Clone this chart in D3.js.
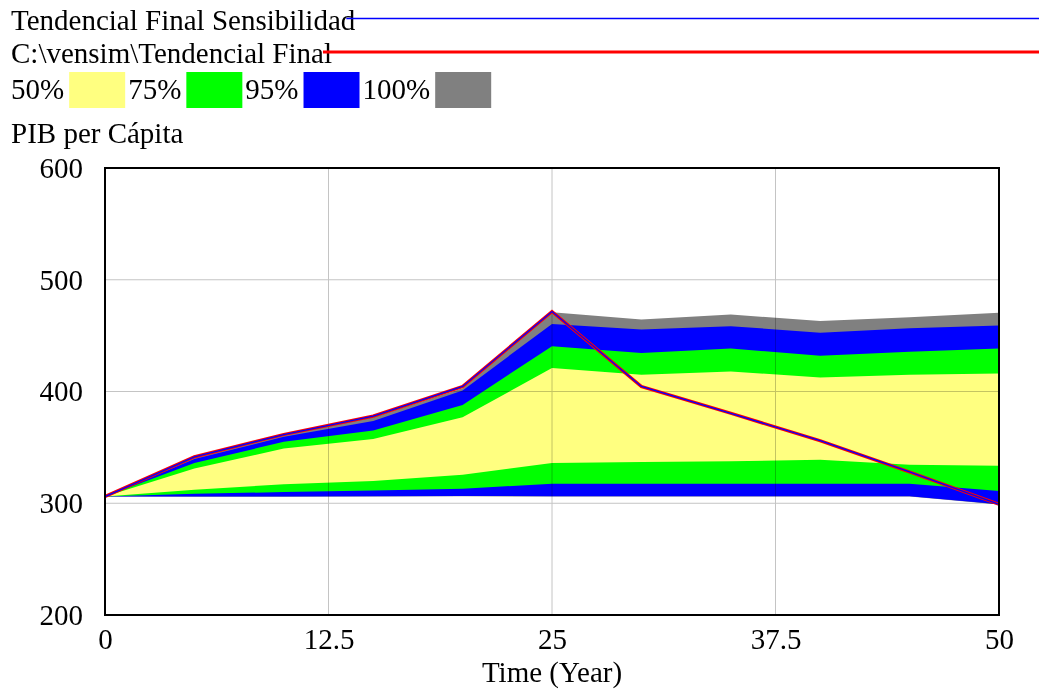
<!DOCTYPE html>
<html>
<head>
<meta charset="utf-8">
<script src="https://cdn.jsdelivr.net/npm/d3@7"></script>
<style>
  body { margin: 0; background: #fff; }
  svg { display: block; font-family: "Liberation Serif", "Times New Roman", serif; }
</style>
</head>
<body>
<svg id="chart" width="1039" height="689"></svg>
<script>
// time steps (Year)
var times = [0, 5, 10, 15, 20, 25, 30, 35, 40, 45, 50];

// base run and sensitivity run
var baseRun = [306, 341.5, 361.5, 378, 404.5, 471.5, 404.5, 380.5, 356, 328, 299];
var sensRun = [306, 341.5, 361.5, 378, 404.5, 471.5, 404.5, 380.5, 356, 328, 299];

// confidence bounds
var upper100 = [306, 341, 361, 377, 403, 471, 464.5, 469, 463, 466.5, 470.5];
var lower100 = [306, 305.8, 305.8, 306, 306.2, 306, 306, 306, 306, 306, 298.8];
var upper95 = [306, 339.5, 359.5, 373.5, 401, 460.5, 455.5, 458.5, 452.5, 456.5, 459];
var lower95 = [306, 306, 306, 306.3, 306.5, 306.3, 306.3, 306.3, 306.3, 306.3, 299];
var upper75 = [306, 336, 355, 365, 388, 440.5, 434.5, 438.5, 432, 435.5, 438.5];
var lower75 = [306, 308.5, 310, 311.5, 313, 317.5, 317.5, 317.5, 317.5, 317.5, 311];
var upper50 = [306, 331, 349, 357.5, 377, 421, 415, 418, 412.5, 415, 416];
var lower50 = [306, 312, 317, 320, 325.5, 336, 337, 337.5, 339, 334.5, 333.5];

var bandLabels = ["50%", "75%", "95%", "100%"];
var bandColors = ["#ffff80", "#00ff00", "#0000ff", "#808080"];

var xTicks = [0, 12.5, 25, 37.5, 50];
var yTicks = [200, 300, 400, 500, 600];

document.addEventListener('DOMContentLoaded', function () {
    drawChart();
});

function drawChart() {
    const svg = d3.select('#chart');
    const margin = { top: 168, bottom: 74, left: 105, right: 40 };
    const width = 1039, height = 689;
    const fs = 29;

    const xScale = d3.scaleLinear()
        .domain([0, 50])
        .range([margin.left, width - margin.right]);
    const yScale = d3.scaleLinear()
        .domain([200, 600])
        .range([height - margin.bottom, margin.top]);

    // legend lines
    const t1 = svg.append('text').attr('x', 11).attr('y', 30)
        .attr('font-size', fs).text('Tendencial Final Sensibilidad');
    const t2 = svg.append('text').attr('x', 11).attr('y', 63)
        .attr('font-size', fs).text('C:\\vensim\\Tendencial Final');
    const end1 = 11 + t1.node().getComputedTextLength();
    const end2 = 11 + t2.node().getComputedTextLength();
    svg.append('line').attr('x1', end1 - 9).attr('x2', width).attr('y1', 18.5).attr('y2', 18.5)
        .attr('stroke', '#0000ff').attr('stroke-width', 1.5);
    svg.append('line').attr('x1', end2 - 9).attr('x2', width).attr('y1', 52).attr('y2', 52)
        .attr('stroke', '#ff0000').attr('stroke-width', 3);

    // legend swatches
    var lx = 11;
    bandLabels.forEach(function (lab, i) {
        const t = svg.append('text').attr('x', lx).attr('y', 99)
            .attr('font-size', fs).text(lab);
        lx += t.node().getComputedTextLength() + 5;
        svg.append('rect').attr('x', lx).attr('y', 72).attr('width', 56).attr('height', 36)
            .attr('fill', bandColors[i]);
        lx += 56 + 3;
    });

    svg.append('text').attr('x', 11).attr('y', 143)
        .attr('font-size', fs).text('PIB per Cápita');

    // bands, widest first
    const bands = [
        { up: upper100, lo: lower100, color: bandColors[3] },
        { up: upper95, lo: lower95, color: bandColors[2] },
        { up: upper75, lo: lower75, color: bandColors[1] },
        { up: upper50, lo: lower50, color: bandColors[0] }
    ];
    const area = d3.area()
        .x(function (d) { return xScale(d.t); })
        .y0(function (d) { return yScale(d.lo); })
        .y1(function (d) { return yScale(d.up); });
    bands.forEach(function (b) {
        const rows = times.map(function (t, i) { return { t: t, up: b.up[i], lo: b.lo[i] }; });
        svg.append('path').datum(rows)
            .attr('fill', b.color)
            .attr('d', area);
    });

    // grid
    const grid = svg.append('g').style('mix-blend-mode', 'multiply');
    grid.selectAll('line.h').data([300, 400, 500]).join('line')
        .attr('x1', xScale(0)).attr('x2', xScale(50))
        .attr('y1', d => yScale(d)).attr('y2', d => yScale(d))
        .attr('stroke', '#c4c4c4').attr('stroke-width', 1);
    grid.selectAll('line.v').data([12.5, 25, 37.5]).join('line')
        .attr('y1', yScale(200)).attr('y2', yScale(600))
        .attr('x1', d => xScale(d)).attr('x2', d => xScale(d))
        .attr('stroke', '#c4c4c4').attr('stroke-width', 1);

    // runs
    const line = d3.line()
        .x(function (d, i) { return xScale(times[i]); })
        .y(function (d) { return yScale(d); });
    svg.append('path').datum(baseRun)
        .attr('fill', 'none').attr('stroke', '#ff0000').attr('stroke-width', 3.2)
        .attr('d', line);
    svg.append('path').datum(sensRun)
        .attr('fill', 'none').attr('stroke', '#0000ff').attr('stroke-width', 1.3)
        .attr('d', line);

    // frame
    svg.append('rect')
        .attr('x', xScale(0)).attr('y', yScale(600))
        .attr('width', xScale(50) - xScale(0)).attr('height', yScale(200) - yScale(600))
        .attr('fill', 'none').attr('stroke', '#000').attr('stroke-width', 2);

    // axes
    const xAxis = d3.axisBottom(xScale).tickValues(xTicks).tickSize(0).tickPadding(13)
        .tickFormat(d3.format('~g'));
    svg.append('g').attr('transform', 'translate(0,' + yScale(200) + ')').call(xAxis)
        .call(g => g.select('.domain').remove())
        .selectAll('text').attr('font-size', fs).attr('font-family', '"Liberation Serif", serif').attr('fill', '#000');
    const yAxis = d3.axisLeft(yScale).tickValues(yTicks).tickSize(0).tickPadding(22);
    svg.append('g').attr('transform', 'translate(' + xScale(0) + ',0)').call(yAxis)
        .call(g => g.select('.domain').remove())
        .selectAll('text').attr('font-size', fs).attr('font-family', '"Liberation Serif", serif').attr('fill', '#000');

    svg.append('text')
        .attr('x', (xScale(0) + xScale(50)) / 2).attr('y', 682)
        .attr('text-anchor', 'middle').attr('font-size', fs)
        .text('Time (Year)');
}
</script>
</body>
</html>
